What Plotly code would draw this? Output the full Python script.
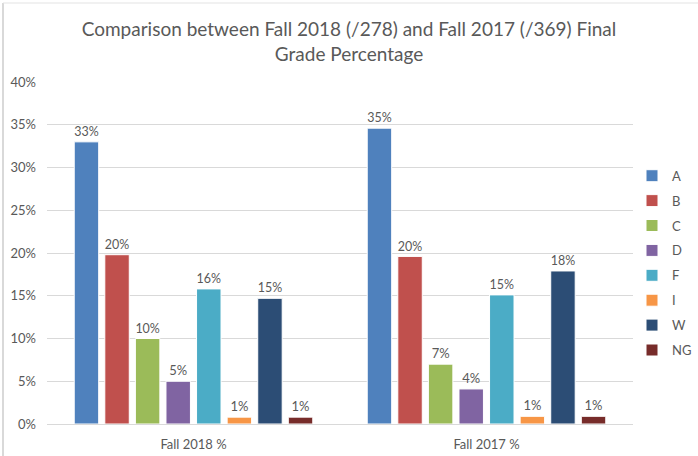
import plotly.graph_objects as go

categories = ["Fall 2018 %", "Fall 2017 %"]
grades = ["A", "B", "C", "D", "F", "I", "W", "NG"]
fall2018 = [33.0, 19.8, 10.0, 5.0, 15.8, 0.8, 14.7, 0.8]
fall2017 = [34.6, 19.6, 7.0, 4.1, 15.1, 0.9, 17.9, 0.9]
colors = ["#4F81BD", "#C0504D", "#9BBB59", "#8064A2", "#4BACC6", "#F79646", "#2C4D75", "#772C2A"]

FONT = "Lato"
GRAY = "#595959"

fig = go.Figure()
for i, g in enumerate(grades):
    fig.add_trace(go.Bar(
        name=g,
        x=categories,
        y=[fall2018[i], fall2017[i]],
        marker=dict(color=colors[i], line=dict(color="white", width=1)),
        texttemplate="%{y:.0f}%",
        textposition="outside",
        textfont=dict(family=FONT, size=13, color=GRAY),
        cliponaxis=False,
        legendgroup=g,
    ))

L, R, T, B = 47, 65, 82, 32
W, H = 698, 456
pw, ph = W - L - R, H - T - B

fig.update_layout(
    width=W, height=H,
    margin=dict(l=L, r=R, t=T, b=B, autoexpand=False),
    paper_bgcolor="white", plot_bgcolor="white",
    barmode="group", bargap=0.165, bargroupgap=0.2,
    title=dict(
        text="Comparison between Fall 2018 (/278) and Fall 2017 (/369) Final<br>Grade Percentage",
        x=0.5, xanchor="center", y=0.92, yanchor="middle",
        font=dict(family=FONT, size=19, color=GRAY),
    ),
    font=dict(family=FONT, color=GRAY),
    legend=dict(
        x=(632 - L) / pw, xanchor="left", y=0.47, yanchor="middle",
        font=dict(family=FONT, size=13, color=GRAY),
        itemwidth=30,
        tracegroupgap=5, bgcolor="rgba(0,0,0,0)",
    ),
    showlegend=True,
)
fig.update_xaxes(
    showgrid=False, showline=True, linecolor="#D9D9D9", linewidth=1,
    tickfont=dict(family=FONT, size=13, color=GRAY), ticks="",
    ticklabelstandoff=8,
)
fig.update_yaxes(
    range=[0, 40], dtick=5, ticksuffix="%",
    showgrid=True, gridcolor="#D9D9D9", gridwidth=1,
    zeroline=False, showline=False, ticks="",
    tickfont=dict(family=FONT, size=13, color=GRAY),
    ticklabelstandoff=10,
)
# light frame: left and top edges
fig.add_shape(
    type="line", xref="paper", yref="paper",
    x0=(3 - L) / pw, x1=(3 - L) / pw,
    y0=(H - B - H) / ph, y1=(H - B - 3) / ph,
    line=dict(color="#D9D9D9", width=2), layer="below",
)
fig.add_shape(
    type="line", xref="paper", yref="paper",
    x0=(3 - L) / pw, x1=(W - L) / pw,
    y0=(H - B - 3) / ph, y1=(H - B - 3) / ph,
    line=dict(color="#E3E3E3", width=1), layer="below",
)

fig.write_html("out.html", config={"displayModeBar": False},
               post_script="document.body.style.margin='0px';")
